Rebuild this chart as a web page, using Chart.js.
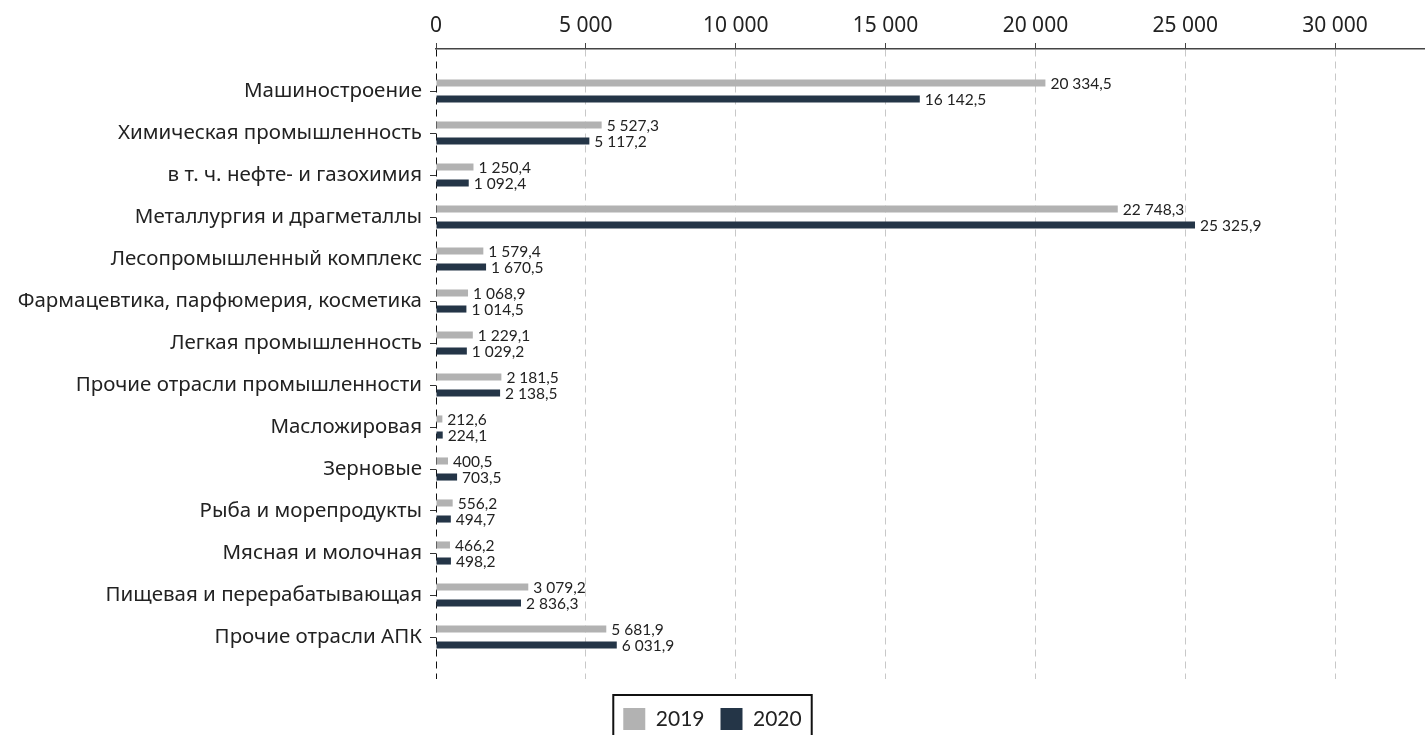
<!DOCTYPE html>
<html>
<head>
<meta charset="utf-8">
<script src="https://cdn.jsdelivr.net/npm/chart.js@4/dist/chart.umd.min.js"></script>
<style>
  html, body { margin: 0; padding: 0; background: #fff; }
  #wrap { width: 1425px; height: 735px; position: relative; }
</style>
</head>
<body>
<div id="wrap"><canvas id="chart"></canvas></div>
<script>
const categories = [
  'Машиностроение',
  'Химическая промышленность',
  'в т. ч. нефте- и газохимия',
  'Металлургия и драгметаллы',
  'Лесопромышленный комплекс',
  'Фармацевтика, парфюмерия, косметика',
  'Легкая промышленность',
  'Прочие отрасли промышленности',
  'Масложировая',
  'Зерновые',
  'Рыба и морепродукты',
  'Мясная и молочная',
  'Пищевая и перерабатывающая',
  'Прочие отрасли АПК'
];
const values2019 = [20334.5, 5527.3, 1250.4, 22748.3, 1579.4, 1068.9, 1229.1, 2181.5, 212.6, 400.5, 556.2, 466.2, 3079.2, 5681.9];
const values2020 = [16142.5, 5117.2, 1092.4, 25325.9, 1670.5, 1014.5, 1029.2, 2138.5, 224.1, 703.5, 494.7, 498.2, 2836.3, 6031.9];
const xTicks = [0, 5000, 10000, 15000, 20000, 25000, 30000];

const colorGray = '#b2b2b2';
const colorNavy = '#243547';
const labelFont = '"Noto Sans", sans-serif';
const valueFont = 'Lato, sans-serif';

// пробел как разделитель тысяч, запятая как десятичный знак
function fmt(v, digits) {
  const parts = v.toFixed(digits).split('.');
  const int = parts[0].replace(/\B(?=(\d{3})+(?!\d))/g, ' ');
  return parts.length > 1 ? int + ',' + parts[1] : int;
}

// пустая категория сверху и снизу даёт отступ в целый шаг
const yLabels = [''].concat(categories, ['']);
const pad = arr => [null].concat(arr, [null]);

const valueLabels = {
  id: 'valueLabels',
  afterDatasetsDraw(chart) {
    const ctx = chart.ctx;
    ctx.save();
    ctx.font = '15.5px ' + valueFont;
    ctx.fillStyle = '#222';
    ctx.textAlign = 'left';
    ctx.textBaseline = 'middle';
    chart.data.datasets.forEach((ds, i) => {
      chart.getDatasetMeta(i).data.forEach((bar, j) => {
        const v = ds.data[j];
        if (v === null) return;
        ctx.fillText(fmt(v, 1), bar.x + 5, bar.y + 1);
      });
    });
    ctx.restore();
  }
};

// легенда чуть ниже и в рамке
const legendFrame = {
  id: 'legendFrame',
  afterLayout(chart) {
    if (!chart.legend) return;
    chart.legend.top += 13;
    chart.legend.bottom += 13;
  },
  afterDraw(chart) {
    const boxes = chart.legend && chart.legend.legendHitBoxes;
    if (!boxes || !boxes.length) return;
    const first = boxes[0];
    const last = boxes[boxes.length - 1];
    const ctx = chart.ctx;
    const top = first.top + first.height / 2 - 11 - 13;
    ctx.save();
    ctx.strokeStyle = '#111';
    ctx.lineWidth = 2;
    ctx.strokeRect(first.left - 10, top, last.left + last.width - first.left + 20, 60);
    ctx.restore();
  }
};

new Chart(document.getElementById('chart'), {
  type: 'bar',
  data: {
    labels: yLabels,
    datasets: [
      { label: '2019', data: pad(values2019), backgroundColor: colorGray },
      { label: '2020', data: pad(values2020), backgroundColor: colorNavy }
    ]
  },
  options: {
    indexAxis: 'y',
    responsive: true,
    maintainAspectRatio: false,
    animation: false,
    categoryPercentage: 0.764,
    barPercentage: 0.44,
    layout: { padding: { left: 0, right: 0, top: 0, bottom: 8 } },
    plugins: {
      legend: {
        position: 'bottom',
        labels: {
          boxWidth: 22,
          boxHeight: 22,
          padding: 16,
          color: '#222',
          font: { family: valueFont, size: 21 }
        }
      },
      tooltip: { enabled: false }
    },
    scales: {
      x: {
        position: 'top',
        min: 0,
        max: 33000,
        afterBuildTicks: scale => {
          scale.ticks = xTicks.map(v => ({ value: v }));
        },
        afterFit: scale => { scale.height = 49; },
        border: { display: true, color: '#444', width: 1.5, dash: [7, 5] },
        grid: {
          // линия у нуля играет роль пунктирной оси категорий
          color: c => (c.tick && c.tick.value === 0 ? '#111' : '#c8c8c8'),
          tickColor: '#444',
          tickLength: 6,
          drawTicks: true
        },
        ticks: {
          color: '#222',
          padding: 4,
          font: { family: labelFont, size: 21 },
          callback: v => fmt(v, 0)
        }
      },
      y: {
        offset: false,
        afterFit: scale => { scale.width = 436; },
        border: { display: false },
        grid: {
          offset: false,
          drawOnChartArea: false,
          drawTicks: true,
          tickLength: 6,
          tickColor: c => (c.tick && c.tick.label === '' ? 'rgba(0,0,0,0)' : '#333')
        },
        ticks: {
          autoSkip: false,
          color: '#222',
          padding: 8,
          font: { family: labelFont, size: 20.5 }
        }
      }
    }
  },
  plugins: [valueLabels, legendFrame]
});
</script>
</body>
</html>
